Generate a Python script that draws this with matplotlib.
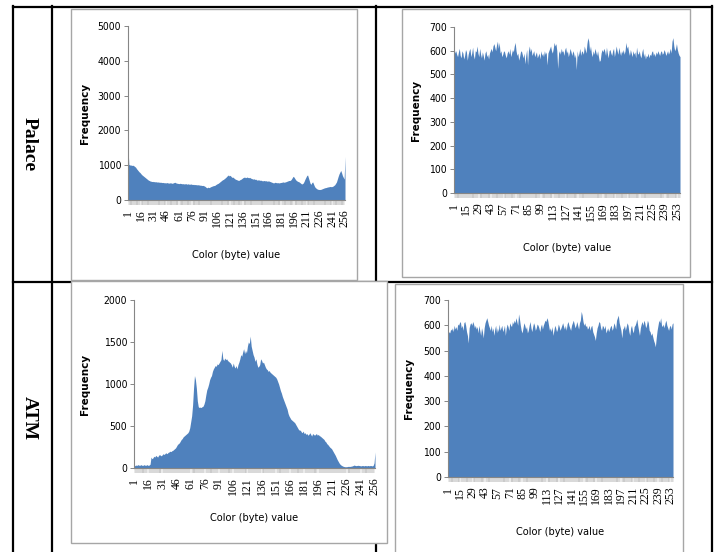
import matplotlib
matplotlib.use("Agg")
import matplotlib.pyplot as plt
import numpy as np
from matplotlib.lines import Line2D
from matplotlib.patches import Rectangle
from matplotlib import font_manager

W, H = 717, 552
BLUE = "#4F81BD"
GREY = "#868686"

# byte values 1..256
byte_values = list(range(1, 257))

# Palace - original image histogram
palace_plain = [
    1500, 1020, 1010, 1000, 1005, 990, 1000, 980, 960, 940, 900, 870, 840, 810, 790, 760,
    730, 710, 690, 670, 650, 630, 610, 590, 570, 560, 545, 540, 530, 535, 525, 530,
    520, 525, 515, 520, 510, 515, 505, 510, 500, 505, 495, 500, 490, 495, 500, 490,
    485, 490, 495, 485, 480, 490, 500, 510, 495, 485, 480, 475, 470, 480, 475, 470,
    465, 470, 460, 465, 470, 455, 460, 465, 450, 455, 460, 450, 445, 450, 440, 445,
    440, 435, 440, 430, 435, 420, 425, 415, 420, 410, 400, 380, 360, 350, 370, 355,
    365, 380, 390, 400, 410, 415, 420, 440, 455, 470, 480, 500, 520, 540, 560, 580,
    590, 610, 630, 650, 680, 700, 720, 690, 710, 680, 650, 660, 640, 620, 600, 590,
    580, 570, 560, 575, 590, 600, 620, 640, 650, 660, 640, 650, 660, 645, 640, 650,
    630, 620, 610, 600, 610, 590, 600, 580, 570, 580, 575, 565, 570, 560, 550, 555,
    560, 550, 555, 545, 540, 550, 540, 530, 520, 510, 500, 490, 500, 510, 500, 495,
    500, 490, 495, 500, 505, 510, 520, 510, 515, 520, 530, 540, 550, 560, 560, 570,
    600, 640, 680, 660, 620, 580, 560, 540, 530, 520, 500, 480, 460, 470, 490, 540,
    600, 650, 700, 720, 640, 560, 480, 450, 500, 520, 460, 400, 360, 340, 320, 310,
    300, 305, 300, 310, 320, 330, 340, 350, 355, 360, 370, 375, 380, 385, 390, 380,
    390, 400, 420, 440, 480, 520, 600, 680, 750, 800, 850, 780, 700, 650, 600, 1250,
]

# Palace - encrypted image histogram
palace_cipher = [
    620, 590, 600, 585, 575, 595, 610, 580, 570, 600, 590, 565, 580, 605, 595, 560,
    585, 600, 610, 575, 590, 615, 580, 565, 600, 595, 620, 590, 575, 610, 585, 570,
    595, 580, 560, 590, 600, 575, 585, 565, 590, 600, 610, 595, 620, 630, 615, 600,
    625, 640, 610, 635, 590, 600, 575, 585, 600, 595, 580, 570, 590, 600, 585, 610,
    575, 590, 605, 595, 620, 635, 600, 580, 590, 560, 575, 595, 600, 585, 570, 590,
    545, 580, 605, 540, 600, 620, 595, 610, 580, 590, 600, 575, 585, 595, 570, 580,
    590, 565, 600, 580, 590, 575, 600, 585, 595, 540, 590, 600, 610, 620, 600, 590,
    610, 635, 620, 630, 600, 525, 590, 600, 585, 610, 595, 600, 580, 605, 615, 590,
    600, 575, 590, 610, 595, 580, 600, 590, 570, 585, 520, 600, 575, 590, 610, 580,
    600, 595, 585, 620, 605, 590, 630, 655, 640, 600, 620, 590, 575, 600, 585, 610,
    595, 580, 600, 575, 555, 560, 590, 605, 595, 610, 600, 580, 615, 590, 570, 600,
    605, 590, 580, 600, 610, 575, 595, 620, 600, 585, 615, 595, 580, 600, 590, 605,
    585, 600, 635, 610, 620, 595, 580, 605, 590, 575, 600, 585, 595, 570, 615, 590,
    585, 600, 580, 570, 595, 610, 575, 590, 565, 580, 575, 590, 570, 585, 580, 595,
    600, 580, 590, 575, 595, 585, 600, 590, 580, 595, 600, 585, 590, 605, 595, 580,
    590, 600, 585, 595, 610, 590, 640, 655, 620, 600, 610, 630, 605, 590, 580, 575,
]

# ATM - original image histogram
atm_plain = [
    20, 30, 35, 30, 40, 35, 30, 40, 35, 30, 35, 40, 30, 35, 40, 30,
    35, 45, 130, 110, 120, 140, 130, 150, 140, 130, 150, 160, 150, 145, 160, 170,
    160, 175, 180, 170, 185, 190, 200, 195, 205, 210, 220, 230, 240, 260, 280, 290,
    300, 320, 340, 350, 370, 380, 390, 400, 410, 420, 440, 480, 550, 620, 750, 950,
    1100, 1050, 950, 800, 730, 720, 725, 720, 730, 735, 760, 800, 870, 930, 960, 1000,
    1050, 1080, 1100, 1150, 1180, 1200, 1220, 1210, 1240, 1230, 1250, 1270, 1290, 1400, 1300, 1280,
    1310, 1290, 1300, 1280, 1270, 1260, 1250, 1230, 1200, 1250, 1210, 1190, 1220, 1180, 1230, 1260,
    1300, 1350, 1330, 1380, 1420, 1360, 1400, 1370, 1450, 1500, 1480, 1570, 1450, 1400, 1350, 1320,
    1270, 1300, 1240, 1200, 1210, 1230, 1300, 1280, 1250, 1260, 1230, 1200, 1180, 1170, 1150, 1160,
    1140, 1130, 1120, 1110, 1100, 1090, 1080, 1060, 1030, 1000, 960, 920, 890, 850, 820, 790,
    760, 730, 700, 650, 620, 600, 580, 570, 560, 550, 540, 520, 500, 480, 460, 450,
    450, 430, 420, 440, 410, 420, 400, 410, 390, 400, 420, 400, 380, 410, 400, 390,
    400, 410, 390, 400, 385, 380, 370, 360, 350, 340, 320, 310, 290, 280, 265, 250,
    240, 230, 210, 190, 170, 150, 125, 100, 80, 60, 45, 35, 28, 22, 18, 15,
    15, 15, 18, 20, 18, 20, 22, 25, 30, 35, 30, 28, 30, 32, 30, 28,
    25, 28, 30, 25, 28, 30, 25, 28, 30, 25, 30, 28, 25, 30, 60, 190,
]

# ATM - encrypted image histogram
atm_cipher = [
    560, 575, 570, 585, 580, 590, 575, 600, 585, 595, 580, 605, 600, 610, 615, 590,
    600, 580, 610, 615, 600, 575, 560, 530, 590, 605, 610, 600, 615, 605, 590, 600,
    585, 595, 570, 600, 580, 560, 590, 575, 550, 590, 610, 620, 630, 615, 600, 590,
    580, 600, 575, 590, 560, 585, 600, 570, 590, 575, 605, 580, 590, 600, 575, 585,
    600, 560, 590, 605, 595, 580, 610, 600, 595, 615, 605, 620, 610, 630, 615, 600,
    645, 625, 600, 580, 570, 590, 610, 600, 585, 595, 570, 580, 600, 615, 590, 575,
    595, 610, 600, 580, 590, 605, 600, 590, 575, 595, 605, 585, 600, 610, 620, 615,
    630, 620, 600, 580, 590, 575, 595, 560, 580, 600, 590, 575, 585, 605, 595, 580,
    590, 600, 610, 595, 585, 600, 580, 605, 615, 600, 590, 580, 600, 610, 620, 605,
    590, 600, 615, 600, 585, 610, 620, 655, 640, 615, 600, 610, 595, 600, 585, 590,
    600, 580, 595, 600, 575, 565, 555, 540, 570, 590, 600, 615, 610, 590, 580, 600,
    595, 585, 600, 570, 580, 590, 575, 585, 595, 600, 580, 590, 610, 600, 585, 620,
    630, 640, 610, 595, 580, 550, 585, 590, 600, 580, 595, 610, 600, 575, 560, 590,
    600, 580, 570, 595, 600, 610, 625, 600, 580, 560, 590, 605, 615, 600, 620, 610,
    590, 600, 620, 610, 580, 575, 560, 570, 555, 540, 530, 515, 550, 580, 600, 620,
    610, 630, 600, 595, 605, 590, 610, 620, 600, 590, 580, 595, 600, 585, 605, 610,
]

row_labels = ["Palace", "ATM"]
ylabel = "Frequency"
xlabel = "Color (byte) value"

# narrow sans for tick numbers and axis title (Calibri-like look)
narrow_ticks = font_manager.FontProperties(family="DejaVu Sans", stretch="condensed", size=7.5)
narrow_title = font_manager.FontProperties(family="DejaVu Sans", stretch="condensed", size=7.8)


def fig_box(l, t, r, b):
    return [l / W, 1 - b / H, (r - l) / W, (b - t) / H]


def hline(fig, x0, x1, y):
    fig.add_artist(Line2D([x0 / W, x1 / W], [1 - y / H, 1 - y / H],
                          transform=fig.transFigure, color="black", lw=1.6, zorder=-3))


def vline(fig, x, y0, y1):
    fig.add_artist(Line2D([x / W, x / W], [1 - y0 / H, 1 - y1 / H],
                          transform=fig.transFigure, color="black", lw=1.6, zorder=-3))


def frame(fig, l, t, r, b):
    fig.add_artist(Rectangle((l / W, 1 - b / H), (r - l) / W, (b - t) / H,
                             transform=fig.transFigure, facecolor="white",
                             edgecolor="#a6a6a6", lw=1.0, zorder=-1))


def histo(fig, ax_px, values, ymax, ystep, xstep, ylab_x, xlab_y):
    l, t, r, b = ax_px
    ax = fig.add_axes(fig_box(l, t, r, b))
    ax.fill_between(byte_values, values, 0, color=BLUE, lw=0)
    ax.set_xlim(1, 256)
    ax.set_ylim(0, ymax)
    ax.set_yticks(np.arange(0, ymax + 1, ystep))
    ticks = list(range(1, 257, xstep))
    ax.set_xticks(ticks)
    ax.set_xticklabels([str(v) for v in ticks], rotation=90,
                       family="Liberation Serif", fontsize=8.5)
    ax.set_xticks(byte_values, minor=True)
    ax.tick_params(axis="x", which="major", length=0, pad=7)
    ax.tick_params(axis="x", which="minor", length=3.5, width=0.3, color="#9a9a9a")
    ax.tick_params(axis="y", length=3, width=0.7, color=GREY, pad=2)
    for lab in ax.get_yticklabels():
        lab.set_fontproperties(narrow_ticks)
    for s in ("top", "right"):
        ax.spines[s].set_visible(False)
    for s in ("left", "bottom"):
        ax.spines[s].set_color(GREY)
        ax.spines[s].set_linewidth(0.8)
    ax.set_ylabel(ylabel, fontsize=7.5, fontweight="bold", family="DejaVu Sans")
    ax.yaxis.set_label_coords((ylab_x - l) / (r - l), 0.5)
    ax.set_xlabel(xlabel, fontproperties=narrow_title)
    ax.xaxis.set_label_coords(0.5, (b - xlab_y) / (b - t))
    ax.patch.set_alpha(0)
    return ax


fig = plt.figure(figsize=(W / 100, H / 100), dpi=100)

# table grid
hline(fig, 13, 712, 7)
hline(fig, 13, 712, 282)
vline(fig, 13, 6, 552)
vline(fig, 52, 6, 552)
vline(fig, 376, 6, 552)
vline(fig, 712, 6, 552)

# chart frames
frame(fig, 71, 9, 357, 280)
frame(fig, 402, 9, 690, 277)
frame(fig, 71, 281, 387, 543)
frame(fig, 395, 284, 683, 560)

histo(fig, (128, 26, 345, 200), palace_plain, 5000, 1000, 15, 90, 250)
histo(fig, (454, 27, 680, 193), palace_cipher, 700, 100, 14, 421, 243)
histo(fig, (134, 300, 375, 468), atm_plain, 2000, 500, 15, 90, 513)
histo(fig, (448, 300, 673, 477), atm_cipher, 700, 100, 14, 414, 527)

fig.text(29 / W, 1 - 144 / H, row_labels[0], rotation=-90, ha="center", va="center",
         family="Liberation Serif", fontweight="bold", fontsize=14)
fig.text(29 / W, 1 - 418 / H, row_labels[1], rotation=-90, ha="center", va="center",
         family="Liberation Serif", fontweight="bold", fontsize=14)

fig.savefig("out.png", dpi=100, facecolor="white")
